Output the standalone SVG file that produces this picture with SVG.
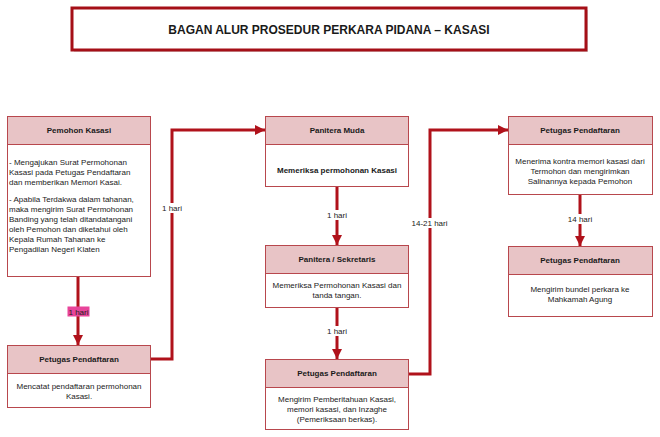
<svg xmlns="http://www.w3.org/2000/svg" width="660" height="437" viewBox="0 0 660 437">
<defs>
<marker id="ah" markerUnits="userSpaceOnUse" markerWidth="12" markerHeight="12" viewBox="0 0 12 12" refX="10" refY="6" orient="auto">
<path d="M0,1 L10,6 L0,11 Z" fill="#b0121b"/>
</marker>
</defs>
<style>
.box{fill:#ffffff;stroke:#b8474d;stroke-width:1}
.hdr{fill:#e8c4c6;stroke:#b8474d;stroke-width:1}
.ht{font-family:"Liberation Sans",Arial,sans-serif;font-size:8px;font-weight:bold;fill:#1a1a1a;text-anchor:middle}
.bt{font-family:"Liberation Sans",Arial,sans-serif;font-size:8px;fill:#222;text-anchor:middle}
.bl{font-family:"Liberation Sans",Arial,sans-serif;font-size:8px;fill:#222}
.ln{fill:none;stroke:#b0121b;stroke-width:3}
.lb{font-family:"Liberation Sans",Arial,sans-serif;font-size:8px;fill:#222;text-anchor:middle}
.lbg{fill:#ffffff}
</style>
<rect width="660" height="437" fill="#ffffff"/>
<g id="title">
<rect x="74" y="10" width="514" height="42" fill="#d8d8d8"/>
<rect x="72" y="8" width="514" height="42" fill="#ffffff" stroke="#a50f17" stroke-width="3"/>
<text x="329" y="33.5" font-family="'Liberation Sans',Arial,sans-serif" font-size="12" font-weight="bold" fill="#1a1a1a" text-anchor="middle">BAGAN ALUR PROSEDUR PERKARA PIDANA – KASASI</text>
</g>
<g id="connectors">
<line class="ln" x1="78" y1="277" x2="78" y2="345" marker-end="url(#ah)"/>
<rect x="67.5" y="306.5" width="22" height="10" fill="#e8449a"/>
<text class="lb" x="78.5" y="314.5">1 hari</text>
<polyline class="ln" points="150,359 172,359 172,130 265,130" marker-end="url(#ah)"/>
<rect class="lbg" x="161" y="203" width="22" height="10"/>
<text class="lb" x="172" y="211">1 hari</text>
<line class="ln" x1="337" y1="187" x2="337" y2="245" marker-end="url(#ah)"/>
<rect class="lbg" x="326" y="210" width="22" height="10"/>
<text class="lb" x="337" y="218">1 hari</text>
<line class="ln" x1="337" y1="307" x2="337" y2="359" marker-end="url(#ah)"/>
<rect class="lbg" x="326" y="326" width="22" height="10"/>
<text class="lb" x="337" y="334">1 hari</text>
<polyline class="ln" points="408,374 430,374 430,130 508,130" marker-end="url(#ah)"/>
<rect class="lbg" x="411" y="218" width="37" height="10"/>
<text class="lb" x="429.5" y="226">14-21 hari</text>
<line class="ln" x1="580" y1="195" x2="580" y2="246" marker-end="url(#ah)"/>
<rect class="lbg" x="567" y="214" width="26" height="10"/>
<text class="lb" x="580" y="222">14 hari</text>
</g>
<g id="pemohon-kasasi">
<rect class="box" x="7.5" y="116.5" width="143" height="160"/>
<rect class="hdr" x="7.5" y="116.5" width="143" height="28"/>
<text class="ht" x="79" y="133">Pemohon Kasasi</text>
<text class="bl" x="9" y="165">- Mengajukan Surat Permohonan</text>
<text class="bl" x="9" y="175">Kasasi  pada Petugas Pendaftaran</text>
<text class="bl" x="9" y="185">dan memberikan Memori Kasai.</text>
<text class="bl" x="9" y="202">- Apabila Terdakwa dalam tahanan,</text>
<text class="bl" x="9" y="212">maka mengirim Surat Permohonan</text>
<text class="bl" x="9" y="222">Banding yang telah ditandatangani</text>
<text class="bl" x="9" y="232">oleh Pemohon dan diketahui oleh</text>
<text class="bl" x="9" y="242">Kepala Rumah Tahanan ke</text>
<text class="bl" x="9" y="252">Pengadilan Negeri Klaten</text>
</g>
<g id="petugas-1">
<rect class="box" x="7.5" y="345.5" width="143" height="62"/>
<rect class="hdr" x="7.5" y="345.5" width="143" height="28"/>
<text class="ht" x="79" y="362">Petugas Pendaftaran</text>
<text class="bt" x="79" y="389">Mencatat pendaftaran permohonan</text>
<text class="bt" x="79" y="399">Kasasi.</text>
</g>
<g id="panitera-muda">
<rect class="box" x="265.5" y="116.5" width="143" height="70"/>
<rect class="hdr" x="265.5" y="116.5" width="143" height="28"/>
<text class="ht" x="337" y="133">Panitera Muda</text>
<text class="ht" x="337" y="173">Memeriksa permohonan Kasasi</text>
</g>
<g id="panitera-sekretaris">
<rect class="box" x="265.5" y="245.5" width="143" height="62"/>
<rect class="hdr" x="265.5" y="245.5" width="143" height="28"/>
<text class="ht" x="337" y="262">Panitera / Sekretaris</text>
<text class="bt" x="337" y="288">Memeriksa Permohonan Kasasi dan</text>
<text class="bt" x="337" y="298">tanda tangan.</text>
</g>
<g id="petugas-2">
<rect class="box" x="265.5" y="359.5" width="143" height="70"/>
<rect class="hdr" x="265.5" y="359.5" width="143" height="28"/>
<text class="ht" x="337" y="376">Petugas Pendaftaran</text>
<text class="bt" x="337" y="402">Mengirim Pemberitahuan Kasasi,</text>
<text class="bt" x="337" y="412">memori kasasi, dan  Inzaghe</text>
<text class="bt" x="337" y="422">(Pemeriksaan berkas).</text>
</g>
<g id="petugas-3">
<rect class="box" x="508.5" y="116.5" width="144" height="78"/>
<rect class="hdr" x="508.5" y="116.5" width="144" height="28"/>
<text class="ht" x="580" y="133">Petugas Pendaftaran</text>
<text class="bt" x="580" y="164">Menerima kontra memori kasasi dari</text>
<text class="bt" x="580" y="174">Termohon dan mengirimkan</text>
<text class="bt" x="580" y="184">Salinannya kepada Pemohon</text>
</g>
<g id="petugas-4">
<rect class="box" x="508.5" y="246.5" width="144" height="70"/>
<rect class="hdr" x="508.5" y="246.5" width="144" height="28"/>
<text class="ht" x="580" y="263">Petugas Pendaftaran</text>
<text class="bt" x="580" y="292">Mengirim bundel perkara ke</text>
<text class="bt" x="580" y="302">Mahkamah Agung</text>
</g>
</svg>
